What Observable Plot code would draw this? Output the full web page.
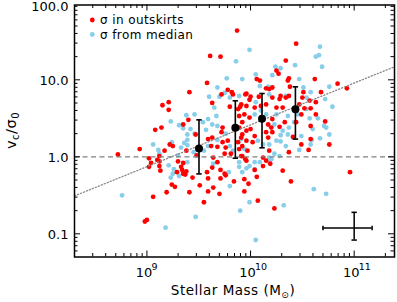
<!DOCTYPE html>
<html>
<head>
<meta charset="utf-8">
<script src="https://cdn.jsdelivr.net/npm/d3@7"></script>
<script src="https://cdn.jsdelivr.net/npm/@observablehq/plot@0.6"></script>
<style>
  html, body { margin: 0; padding: 0; background: #fff; }
  #chart svg { display: block; }
</style>
</head>
<body>
<div id="chart"></div>
<script>
// ---------- data (log10 stellar mass, log10 vc/sigma0) ----------
const redLogMass = [8.72,9.02,9.04,9.12,9.12,9.19,9.06,9.24,9.27,8.98,9.00,9.41,9.44,9.35,9.34,9.30,9.35,9.33,9.48,9.51,8.93,9.02,9.12,9.17,9.22,9.38,9.08,9.14,9.38,9.37,9.41,9.21,9.15,9.21,9.35,9.40,9.47,9.25,9.10,9.29,9.13,9.55,9.59,9.64,9.70,9.76,9.84,9.94,9.98,9.94,10.06,10.07,9.95,10.04,9.87,9.61,9.71,9.58,10.06,10.09,9.78,9.95,10.15,9.63,9.83,9.99,10.08,10.18,9.72,9.82,9.80,9.90,9.73,9.72,9.63,9.59,9.73,9.68,9.62,9.78,9.76,9.75,9.64,9.68,9.63,9.71,9.75,9.59,9.91,9.81,9.58,9.71,9.92,9.96,10.00,9.91,9.96,10.04,10.21,10.28,10.34,10.50,10.63,10.25,10.31,10.52,10.49,10.63,10.72,10.58,10.76,10.58,10.49,10.56,10.37,9.88,9.89,9.94,9.99,9.92,9.89,9.96,10.00,10.04,9.91,9.96,9.88,10.02,9.92,9.89,9.97,10.15,10.21,10.20,10.17,10.21,10.10,10.15,10.17,10.28,10.33,10.44,9.92,9.96,10.15,10.12,10.12,10.31,10.39,10.23,10.96,10.19,10.18,10.41,10.44,10.34,10.25,10.27,10.62,10.37,10.36,10.84,10.93,10.68,10.21,10.38,10.51,10.37,10.29,10.57,10.47,10.58];
const redLogRatio = [0.03,-0.13,-0.08,-0.12,-0.06,-0.46,-0.52,-0.36,-0.39,-0.84,-0.82,-0.46,-0.27,-0.22,-0.17,-0.06,-0.08,-0.13,0.02,-0.37,0.10,-0.02,0.01,0.08,0.16,0.08,0.35,0.38,-0.19,-0.23,0.84,0.71,0.67,0.61,0.42,0.48,0.29,0.14,-0.04,-0.20,-0.18,-0.59,-0.45,-0.40,-0.48,-0.24,-0.32,-0.45,-0.35,-0.29,-0.26,-0.57,-0.03,-0.17,1.64,1.31,1.30,0.96,1.01,0.99,0.87,0.81,0.89,0.70,0.81,0.74,0.78,0.88,0.81,0.84,0.65,0.65,0.38,0.32,0.25,0.23,0.19,0.13,0.14,0.21,0.12,0.04,-0.01,-0.07,-0.14,-0.17,-0.22,-0.28,0.01,0.04,-0.20,-0.28,0.29,0.82,0.78,0.68,0.66,0.64,0.77,0.75,0.77,0.77,0.71,0.64,0.64,0.63,0.55,0.55,0.46,0.40,0.16,0.23,0.16,0.09,0.06,0.62,0.53,0.55,0.51,0.45,0.38,0.34,0.36,0.27,0.25,0.21,0.19,0.19,0.14,0.10,0.08,0.32,0.32,0.38,0.42,0.49,0.66,0.68,0.25,0.39,0.45,0.45,0.01,-0.05,-0.05,-0.01,-0.12,-0.18,-0.32,-0.67,-0.20,-0.09,0.08,0.26,1.47,1.25,1.12,1.08,1.01,1.02,0.99,0.95,0.89,0.84,0.90,0.91,0.84,0.79,0.79,0.73,0.68,0.63];

const blueLogMass = [8.76,9.18,9.47,9.23,9.25,9.21,9.12,9.30,9.45,9.24,9.36,9.39,9.35,9.39,9.06,9.23,9.31,9.38,9.42,9.46,9.46,9.11,9.33,9.39,9.39,9.26,9.31,9.80,9.99,9.90,10.05,9.89,9.92,9.96,10.04,10.32,10.61,10.73,10.67,10.59,10.47,10.28,10.20,10.29,10.29,10.73,10.60,9.99,9.86,9.77,9.92,10.05,9.68,9.89,10.09,9.60,9.70,9.75,9.80,10.67,10.66,10.63,10.69,10.24,10.29,10.21,10.43,10.47,10.76,10.72,10.79,10.17,10.51,10.58,10.34,10.54,9.65,9.67,9.59,9.54,9.63,9.68,9.57,9.76,9.68,9.80,9.79,9.83,9.59,9.55,9.64,9.91,9.94,10.05,10.18,10.54,10.36,10.45,10.57,10.65,10.71,10.76,10.58,10.49,10.41,10.36,10.34,10.23,10.18,10.07,10.12,10.18,10.25,10.23,10.25,10.15,10.10,10.04,10.37,10.31,10.42,9.89,9.99,10.04,10.09,10.18];
const blueLogRatio = [-0.50,-0.92,-0.78,-0.27,-0.22,-0.11,0.04,0.02,0.06,0.19,0.18,0.15,0.37,0.29,0.16,0.46,0.41,0.54,0.36,0.55,0.30,0.09,0.12,0.22,-0.07,-0.16,-0.25,-0.38,-0.59,-0.70,-1.08,-0.13,-0.20,-0.15,-0.07,-0.63,-0.42,-0.48,0.24,0.22,0.09,0.01,-0.03,0.20,0.28,0.38,0.36,1.39,1.24,1.02,1.01,1.07,0.90,0.79,0.92,0.78,0.78,0.83,0.77,1.43,1.32,1.30,1.17,1.17,1.15,1.06,1.19,1.01,0.91,0.75,0.65,0.91,0.90,0.84,0.79,0.77,0.64,0.53,0.49,0.45,0.42,0.40,0.35,0.30,0.22,0.14,-0.20,0.08,0.14,0.08,-0.09,0.23,0.10,0.71,0.81,0.62,0.53,0.55,0.50,0.50,0.40,0.29,0.16,0.27,0.25,0.29,0.14,0.04,-0.01,0.21,0.16,0.16,0.21,0.42,0.55,0.55,0.60,0.55,0.38,0.34,0.45,-0.07,-0.12,-0.16,-0.07,-0.07];

// binned medians with error bars
const binMass  = [3.18e9, 7.13e9, 1.29e10, 2.71e10];
const binRatio = [1.28, 2.38, 3.12, 4.16];
const binHigh  = [3.02, 5.34, 6.64, 8.11];
const binLow   = [0.60, 0.96, 1.31, 1.70];

// typical error cross
const errMass = [1.0e11], errMassLow = [5.0e10], errMassHigh = [1.49e11];
const errRatio = [0.119], errRatioLow = [0.083], errRatioHigh = [0.19];

// power-law fit: log(vc/sigma0) = a + b log(M)
const fitIntercept = -5.015, fitSlope = 0.543;

// axes
const xDomain = [2.0e8, 2.45e11];
const yDomain = [0.05, 93.7];
const xMajor = [1e9, 1e10, 1e11];
const xMinor = [3e8,4e8,5e8,6e8,7e8,8e8,9e8,2e9,3e9,4e9,5e9,6e9,7e9,8e9,9e9,2e10,3e10,4e10,5e10,6e10,7e10,8e10,9e10,2e11];
const yMajor = [0.1, 1, 10];
const yTopLabel = [100];
const yMinor = [0.06,0.07,0.08,0.09,0.2,0.3,0.4,0.5,0.6,0.7,0.8,0.9,2,3,4,5,6,7,8,9,20,30,40,50,60,70,80,90];
const xExponents = ["9", "10", "11"];
const legendLabels = ["\u03c3 in outskirts", "\u03c3 from median"];
const colors = ["#ff0000", "#87ceeb"];

// ---------- build tables ----------
const red = redLogMass.map((m, i) => ({m: 10 ** m, r: 10 ** redLogRatio[i]}));
const blue = blueLogMass.map((m, i) => ({m: 10 ** m, r: 10 ** blueLogRatio[i]}));
const bins = binMass.map((m, i) => ({m, r: binRatio[i], hi: binHigh[i], lo: binLow[i]}));
const cross = errMass.map((m, i) => ({m, mlo: errMassLow[i], mhi: errMassHigh[i], r: errRatio[i], rlo: errRatioLow[i], rhi: errRatioHigh[i]}));
const fit = xDomain.map(m => ({m, r: 10 ** (fitIntercept + fitSlope * Math.log10(m))}));

const W = 397, H = 302, mL = 74, mR = 3, mT = 4.5, mB = 45.5;
const iW = W - mL - mR, iH = H - mT - mB;
const majLen = 6, minLen = 3.5;

const hcap = {draw(ctx, size) { const w = Math.sqrt(size / Math.PI); ctx.moveTo(-w, 0); ctx.lineTo(w, 0); }};
const vcap = {draw(ctx, size) { const w = Math.sqrt(size / Math.PI); ctx.moveTo(0, -w); ctx.lineTo(0, w); }};

const tk = {stroke: "black", strokeWidth: 1};

const chart = Plot.plot({
  width: W, height: H,
  marginLeft: mL, marginRight: mR, marginTop: mT, marginBottom: mB,
  style: {fontFamily: "DejaVu Sans", fontSize: "12px", color: "black", background: "white"},
  x: {type: "log", domain: xDomain, axis: null},
  y: {type: "log", domain: yDomain, axis: null},
  marks: [
    Plot.dot(blue, {x: "m", y: "r", r: 2.4, fill: colors[1]}),
    Plot.dot(red, {x: "m", y: "r", r: 2.4, fill: colors[0]}),
    Plot.ruleY([1], {stroke: "#808080", strokeWidth: 1.3, strokeDasharray: "5,3.5"}),
    Plot.line(fit, {x: "m", y: "r", stroke: "#888", strokeWidth: 1.3, strokeDasharray: "1.2,2"}),
    // binned points
    Plot.ruleX(bins, {x: "m", y1: "lo", y2: "hi", stroke: "black", strokeWidth: 1.6}),
    Plot.dot(bins, {x: "m", y: "hi", symbol: hcap, r: 2.7, stroke: "black", strokeWidth: 1.6, fill: "none"}),
    Plot.dot(bins, {x: "m", y: "lo", symbol: hcap, r: 2.7, stroke: "black", strokeWidth: 1.6, fill: "none"}),
    Plot.dot(bins, {x: "m", y: "r", r: 4, fill: "black"}),
    // error cross
    Plot.ruleX(cross, {x: "m", y1: "rlo", y2: "rhi", stroke: "black", strokeWidth: 1.5}),
    Plot.ruleY(cross, {y: "r", x1: "mlo", x2: "mhi", stroke: "black", strokeWidth: 1.5}),
    Plot.dot(cross, {x: "m", y: "rhi", symbol: hcap, r: 2.7, stroke: "black", strokeWidth: 1.5, fill: "none"}),
    Plot.dot(cross, {x: "m", y: "rlo", symbol: hcap, r: 2.7, stroke: "black", strokeWidth: 1.5, fill: "none"}),
    Plot.dot(cross, {x: "mlo", y: "r", symbol: vcap, r: 2.2, stroke: "black", strokeWidth: 1.5, fill: "none"}),
    Plot.dot(cross, {x: "mhi", y: "r", symbol: vcap, r: 2.2, stroke: "black", strokeWidth: 1.5, fill: "none"}),
    // inward ticks, all four sides
    Plot.tickX(xMajor, {x: d => d, insetTop: iH - majLen, ...tk}),
    Plot.tickX(xMinor, {x: d => d, insetTop: iH - minLen, ...tk}),
    Plot.tickX(xMajor, {x: d => d, insetBottom: iH - majLen, ...tk}),
    Plot.tickX(xMinor, {x: d => d, insetBottom: iH - minLen, ...tk}),
    Plot.tickY(yMajor, {y: d => d, insetRight: iW - majLen, ...tk}),
    Plot.tickY(yMinor, {y: d => d, insetRight: iW - minLen, ...tk}),
    Plot.tickY(yMajor, {y: d => d, insetLeft: iW - majLen, ...tk}),
    Plot.tickY(yMinor, {y: d => d, insetLeft: iW - minLen, ...tk}),
    Plot.frame({stroke: "black", strokeWidth: 1.5}),
    // tick labels (x labels built below as 10^n with superscripts)
    Plot.axisX({ticks: xMajor, tickFormat: d => "10", tickSize: 0, tickPadding: 11, fontSize: 13, dx: -3, label: null}),
    Plot.axisX({ticks: xMajor, tickFormat: d => xExponents[xMajor.indexOf(d)], tickSize: 0, tickPadding: 6, fontSize: 9.5, textAnchor: "start", dx: 4.5, label: null}),
    Plot.axisY({ticks: yMajor, tickFormat: d => d.toFixed(1), tickSize: 0, tickPadding: 6, fontSize: 13, dy: 1, label: null}),
    Plot.axisY({ticks: yTopLabel, tickFormat: d => d.toFixed(1), tickSize: 0, tickPadding: 6, fontSize: 13, dy: 4.5, label: null})
  ]
});

const svg = d3.select(chart);

// legend
const leg = svg.append("g").attr("font-family", "DejaVu Sans").attr("font-size", 12).attr("text-anchor", "start");
legendLabels.forEach((t, i) => {
  const y = 20 + i * 14.5;
  leg.append("circle").attr("cx", mL + 18.3).attr("cy", y).attr("r", 2.4).attr("fill", colors[i]);
  leg.append("text").attr("x", mL + 26).attr("y", y).attr("dy", "0.35em").attr("text-anchor", "start").attr("letter-spacing", 0.4).text(t);
});

// axis titles
const xt = svg.append("text").attr("x", mL + iW / 2 - 1).attr("y", 295).attr("text-anchor", "middle")
  .attr("font-family", "DejaVu Sans").attr("font-size", 13.5).attr("letter-spacing", 0.5);
xt.append("tspan").text("Stellar Mass (M");
xt.append("tspan").attr("font-size", 9).attr("dy", 3).text("\u2299");
xt.append("tspan").attr("dy", -3).text(")");

const yt = svg.append("text").attr("transform", `translate(16,${mT + iH / 2}) rotate(-90)`).attr("text-anchor", "middle")
  .attr("font-family", "DejaVu Sans").attr("font-size", 14.5).attr("letter-spacing", 0.5);
yt.append("tspan").text("v");
yt.append("tspan").attr("font-size", 10).attr("dy", 3).text("c");
yt.append("tspan").attr("dy", -3).text("/\u03c3");
yt.append("tspan").attr("font-size", 10).attr("dy", 3).text("0");

document.getElementById("chart").appendChild(chart);
</script>
</body>
</html>
